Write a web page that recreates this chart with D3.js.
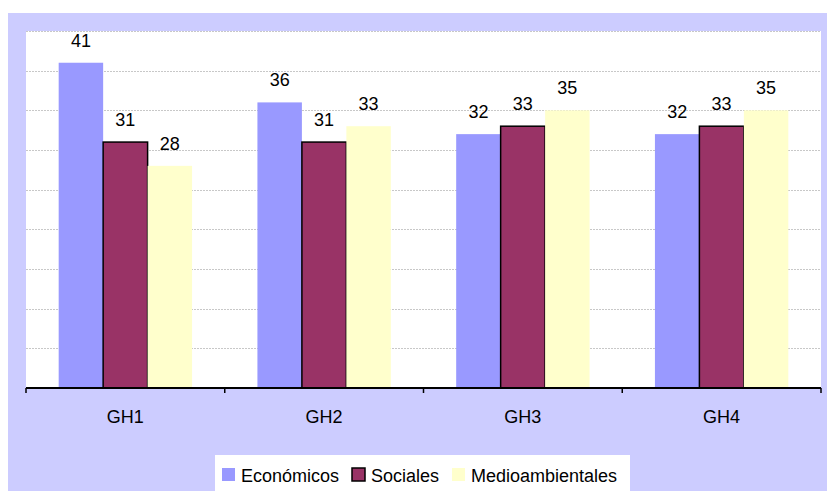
<!DOCTYPE html>
<html>
<head>
<meta charset="utf-8">
<script src="https://cdn.jsdelivr.net/npm/d3@7"></script>
<style>
  html, body { margin: 0; padding: 0; background: #ffffff; }
  svg { display: block; }
  text { font-family: "Liberation Sans", Arial, sans-serif; fill: #000; }
</style>
</head>
<body>
<svg id="chart" width="827" height="491"></svg>
<script>
// Data
const categories = ["GH1", "GH2", "GH3", "GH4"];
const seriesNames = ["Económicos", "Sociales", "Medioambientales"];
const economicos = [41, 36, 32, 32];
const sociales = [31, 31, 33, 33];
const medioambientales = [28, 33, 35, 35];
const yTicks = [0, 5, 10, 15, 20, 25, 30, 35, 40, 45];

const seriesValues = [economicos, sociales, medioambientales];
const colors = ["#9999FF", "#993366", "#FFFFCC"];
const strokes = ["none", "#000000", "none"];

const svg = d3.select("#chart");

// Chart background
svg.append("rect").attr("x", 8).attr("y", 13).attr("width", 819).attr("height", 478)
  .attr("fill", "#CCCCFF");

const plot = { left: 26, right: 821, top: 31, bottom: 388 };

// Plot area
svg.append("rect").attr("x", plot.left).attr("y", plot.top)
  .attr("width", plot.right - plot.left).attr("height", plot.bottom - plot.top)
  .attr("fill", "#ffffff");

const y = d3.scaleLinear().domain([0, 45]).range([plot.bottom, plot.top]);
const x0 = d3.scaleBand().domain(categories).range([plot.left, plot.right]).padding(0);
const x1 = d3.scaleBand().domain(seriesNames).range([0, x0.bandwidth()])
  .paddingInner(0).paddingOuter(0.735);

// Gridlines
svg.append("g").selectAll("line").data(yTicks.filter(t => t > 0)).join("line")
  .attr("x1", plot.left).attr("x2", plot.right)
  .attr("y1", d => Math.round(y(d)) + 0.5).attr("y2", d => Math.round(y(d)) + 0.5)
  .attr("stroke", "#c8c8c8").attr("stroke-width", 1).attr("stroke-dasharray", "2,1");

// Bars
const groups = svg.append("g").selectAll("g").data(categories).join("g")
  .attr("transform", d => `translate(${x0(d)},0)`);

groups.each(function(cat, ci) {
  const g = d3.select(this);
  seriesNames.forEach((s, si) => {
    const v = seriesValues[si][ci];
    g.append("rect")
      .attr("x", x1(s)).attr("y", y(v))
      .attr("width", x1.bandwidth()).attr("height", y(0) - y(v))
      .attr("fill", colors[si])
      .attr("stroke", strokes[si]).attr("stroke-width", strokes[si] === "none" ? 0 : 1.5);
  });
  seriesNames.forEach((s, si) => {
    const v = seriesValues[si][ci];
    g.append("text")
      .attr("x", x1(s) + x1.bandwidth() / 2).attr("y", y(v) - 16)
      .attr("text-anchor", "middle").attr("font-size", 18)
      .text(v);
  });
});

// X axis
const xAxis = svg.append("g").attr("transform", `translate(0,${plot.bottom})`);
xAxis.append("line").attr("x1", plot.left).attr("x2", plot.right)
  .attr("y1", 0).attr("y2", 0).attr("stroke", "#000").attr("stroke-width", 2);
const boundaries = categories.map(c => x0(c)).concat([plot.right]);
xAxis.selectAll("line.tick").data(boundaries).join("line").attr("class", "tick")
  .attr("x1", d => d).attr("x2", d => d).attr("y1", 0).attr("y2", 5)
  .attr("stroke", "#000").attr("stroke-width", 1.5);
xAxis.selectAll("text").data(categories).join("text")
  .attr("x", d => x0(d) + x0.bandwidth() / 2).attr("y", 35)
  .attr("text-anchor", "middle").attr("font-size", 18)
  .text(d => d);

// Legend
const legend = svg.append("g");
legend.append("rect").attr("x", 215).attr("y", 455).attr("width", 415).attr("height", 36)
  .attr("fill", "#ffffff");
const legendX = [222, 352, 452];
seriesNames.forEach((s, i) => {
  legend.append("rect").attr("x", legendX[i]).attr("y", 468).attr("width", 13).attr("height", 13)
    .attr("fill", colors[i])
    .attr("stroke", strokes[i]).attr("stroke-width", strokes[i] === "none" ? 0 : 1.5);
  legend.append("text").attr("x", legendX[i] + 19).attr("y", 482)
    .attr("font-size", 18).text(s);
});
</script>
</body>
</html>
